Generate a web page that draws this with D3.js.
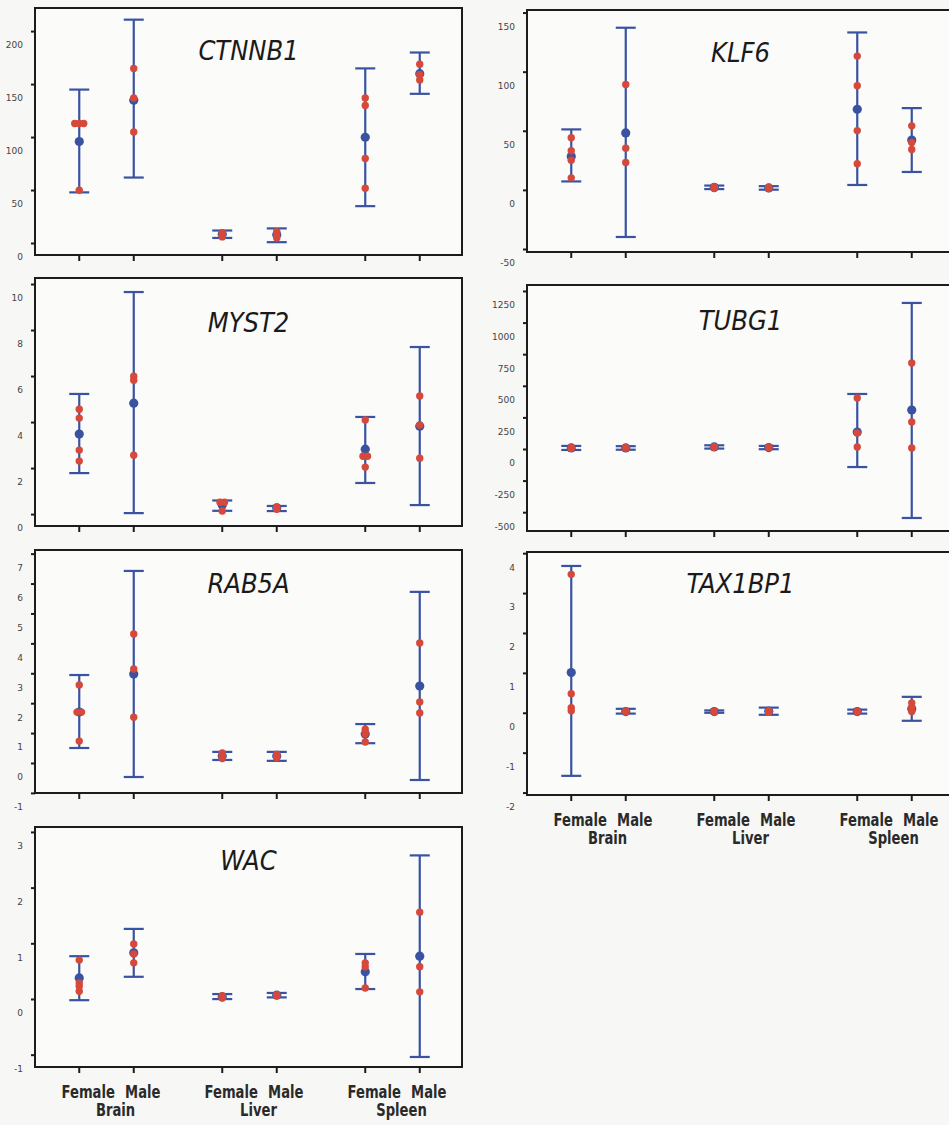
<!DOCTYPE html>
<html>
<head>
<meta charset="utf-8">
<script src="https://cdn.jsdelivr.net/npm/d3@7"></script>
<style>
  body { margin: 0; background: #f7f7f5; }
  svg { display: block; }
  .tick text { font-family: "DejaVu Sans", sans-serif; font-size: 9px; fill: #444; }
  .title { font-family: "Liberation Sans Narrow", "DejaVu Sans Condensed", sans-serif; font-stretch: condensed; font-style: italic; font-size: 27px; fill: #1a1a1a; }
  .xlab { font-family: "Liberation Sans Narrow", "DejaVu Sans Condensed", sans-serif; font-stretch: condensed; font-size: 17px; font-weight: 600; fill: #2a2a2a; }
</style>
</head>
<body>
<script>
// groups along the x axis
var tissues = ["Brain", "Liver", "Spleen"];
var sexes = ["Female", "Male"];

var genes = ["CTNNB1", "MYST2", "RAB5A", "WAC", "KLF6", "TUBG1", "TAX1BP1"];

// y tick labels per gene
var ticksCTNNB1 = [0, 50, 100, 150, 200];
var ticksMYST2 = [0, 2, 4, 6, 8, 10];
var ticksRAB5A = [-1, 0, 1, 2, 3, 4, 5, 6, 7];
var ticksWAC = [-1, 0, 1, 2, 3];
var ticksKLF6 = [-50, 0, 50, 100, 150];
var ticksTUBG1 = [-500, -250, 0, 250, 500, 750, 1000, 1250];
var ticksTAX1BP1 = [-2, -1, 0, 1, 2, 3, 4];

// order of groups: Female Brain, Male Brain, Female Liver, Male Liver, Female Spleen, Male Spleen
var meanCTNNB1 = [109, 148, 21.5, 21, 113, 173];
var upperCTNNB1 = [158, 224, 25, 27, 178, 193];
var lowerCTNNB1 = [61, 75, 18, 14, 48, 154];
var pointsCTNNB1 = [[126, 126, 126, 63], [178, 150, 118], [23, 20, 19], [24, 21, 18], [150, 143, 93, 65], [182, 172, 167]];

var meanMYST2 = [4.09, 5.43, 1.0, 0.88, 3.43, 4.43];
var upperMYST2 = [5.83, 10.26, 1.2, 0.96, 4.83, 7.87];
var lowerMYST2 = [2.39, 0.65, 0.75, 0.74, 1.96, 1.0];
var pointsMYST2 = [[5.17, 4.78, 3.39, 2.91], [6.6, 6.43, 3.17], [1.12, 1.12, 0.74], [0.92, 0.86, 0.82], [4.7, 3.12, 3.12, 2.65], [5.74, 4.48, 3.04]];

var meanRAB5A = [2.17, 3.44, 0.7, 0.7, 1.44, 3.04];
var upperRAB5A = [3.41, 6.89, 0.84, 0.84, 1.77, 6.19];
var lowerRAB5A = [0.97, 0.0, 0.57, 0.54, 1.13, -0.1];
var pointsRAB5A = [[3.08, 2.17, 2.17, 1.2], [4.78, 3.61, 2.0], [0.8, 0.7, 0.62], [0.76, 0.7, 0.64], [1.6, 1.44, 1.17], [4.48, 2.51, 2.14]];

var meanWAC = [0.63, 1.08, 0.29, 0.32, 0.74, 1.02];
var upperWAC = [1.02, 1.51, 0.34, 0.36, 1.06, 2.83];
var lowerWAC = [0.23, 0.65, 0.25, 0.28, 0.43, -0.79];
var pointsWAC = [[0.95, 0.54, 0.48, 0.39], [1.24, 1.06, 0.9], [0.31, 0.28, 0.27], [0.33, 0.31, 0.32], [0.9, 0.83, 0.45], [1.81, 0.83, 0.38]];

var meanKLF6 = [40, 60, 14, 13.5, 80, 54];
var upperKLF6 = [63, 149, 15.5, 15, 145, 81];
var lowerKLF6 = [19, -28, 12.5, 12, 16, 27];
var pointsKLF6 = [[56, 45, 37, 22], [101, 47, 35], [14.5, 13.5, 13], [14, 13, 13.2], [125, 100, 62, 34], [66, 52, 46]];

var meanTUBG1 = [119, 119, 127, 122, 245, 419];
var upperTUBG1 = [135, 133, 140, 135, 546, 1266];
var lowerTUBG1 = [103, 105, 114, 109, -32, -435];
var pointsTUBG1 = [[122, 116, 118], [121, 117, 119], [128, 125, 127], [124, 120, 122], [514, 237, 127], [791, 324, 119]];

var meanTAX1BP1 = [1.36, 0.38, 0.38, 0.39, 0.38, 0.45];
var upperTAX1BP1 = [4.03, 0.45, 0.41, 0.48, 0.43, 0.75];
var lowerTAX1BP1 = [-1.23, 0.33, 0.35, 0.3, 0.33, 0.15];
var pointsTAX1BP1 = [[3.82, 0.83, 0.48, 0.4], [0.39, 0.37, 0.38], [0.38, 0.37, 0.39], [0.4, 0.36, 0.38], [0.38, 0.39, 0.37], [0.6, 0.48, 0.38]];

var data = {
  CTNNB1: [meanCTNNB1, upperCTNNB1, lowerCTNNB1, pointsCTNNB1, ticksCTNNB1],
  MYST2: [meanMYST2, upperMYST2, lowerMYST2, pointsMYST2, ticksMYST2],
  RAB5A: [meanRAB5A, upperRAB5A, lowerRAB5A, pointsRAB5A, ticksRAB5A],
  WAC: [meanWAC, upperWAC, lowerWAC, pointsWAC, ticksWAC],
  KLF6: [meanKLF6, upperKLF6, lowerKLF6, pointsKLF6, ticksKLF6],
  TUBG1: [meanTUBG1, upperTUBG1, lowerTUBG1, pointsTUBG1, ticksTUBG1],
  TAX1BP1: [meanTAX1BP1, upperTAX1BP1, lowerTAX1BP1, pointsTAX1BP1, ticksTAX1BP1]
};

// panel layout: column, frame top/bottom, value range of the frame, title baseline
var layout = {
  CTNNB1: {col: 0, top: 8, bottom: 255, dom: [1.9, 235], ty: 60, xlab: false},
  MYST2: {col: 0, top: 278, bottom: 526, dom: [0.09, 10.87], ty: 332, xlab: false},
  RAB5A: {col: 0, top: 550, bottom: 793, dom: [-0.535, 7.59], ty: 593, xlab: false},
  WAC: {col: 0, top: 827, bottom: 1067, dom: [-0.97, 3.34], ty: 870, xlab: true},
  KLF6: {col: 1, top: 10, bottom: 252, dom: [-40.7, 164], ty: 62, xlab: false},
  TUBG1: {col: 1, top: 285, bottom: 531, dom: [-538, 1408], ty: 330, xlab: false},
  TAX1BP1: {col: 1, top: 552, bottom: 795, dom: [-1.71, 4.38], ty: 593, xlab: true}
};

var W = 949, H = 1125;
var colX = [35, 527];
var frameW = 427;
var blue = "#3a53a1", red = "#d6493a";

var svg = d3.select("body").append("svg")
    .attr("width", W)
    .attr("height", H);

// tissue bands, sex inside each band
var x0 = d3.scaleBand().domain(tissues).range([0, 429]);
var x1 = d3.scalePoint().domain(sexes).range([-27.25, 27.25]);
var groups = [];
tissues.forEach(t => sexes.forEach(s => groups.push({tissue: t, sex: s})));
var gx = d => x0(d.tissue) + x0.bandwidth() / 2 + x1(d.sex);

genes.forEach(function(gene) {
  var L = layout[gene];
  var D = data[gene];
  var mean = D[0], upper = D[1], lower = D[2], pts = D[3], ticks = D[4];

  var g = svg.append("g")
      .attr("transform", "translate(" + colX[L.col] + ",0)");

  var y = d3.scaleLinear().domain(L.dom).range([L.bottom, L.top]);

  g.append("rect")
      .attr("x", 0).attr("y", L.top)
      .attr("width", frameW).attr("height", L.bottom - L.top)
      .attr("fill", "#fbfbfa")
      .attr("stroke", "#1c1c1c")
      .attr("stroke-width", 2);

  // y axis (the tick marks sit a little above their labels, as in the print)
  var ya = g.append("g")
      .call(d3.axisLeft(y).tickValues(ticks).tickSize(4).tickPadding(8).tickFormat(d => String(d)));
  ya.select(".domain").remove();
  ya.selectAll(".tick line")
      .attr("stroke", "#1c1c1c")
      .attr("stroke-width", 2)
      .attr("transform", "translate(0,-14)");

  // x ticks
  var xa = g.append("g")
      .attr("transform", "translate(0," + L.bottom + ")");
  xa.selectAll("line")
      .data(groups)
      .join("line")
      .attr("x1", gx).attr("x2", gx)
      .attr("y1", 0).attr("y2", 6)
      .attr("stroke", "#1c1c1c")
      .attr("stroke-width", 2);

  if (L.xlab) {
    xa.selectAll("text.sex")
        .data(groups)
        .join("text")
        .attr("class", "xlab sex")
        .attr("transform", d => "translate(" + (gx(d) + 9) + ",31) scale(0.86,1)")
        .attr("text-anchor", "middle")
        .text(d => d.sex);
    xa.selectAll("text.tis")
        .data(tissues)
        .join("text")
        .attr("class", "xlab tis")
        .attr("transform", d => "translate(" + (x0(d) + x0.bandwidth() / 2 + 9) + ",49) scale(0.86,1)")
        .attr("text-anchor", "middle")
        .text(d => d);
  }

  // title
  g.append("text")
      .attr("class", "title")
      .attr("x", frameW / 2)
      .attr("y", L.ty)
      .attr("text-anchor", "middle")
      .text(gene);

  var rows = groups.map((d, i) => ({x: gx(d), mean: mean[i], hi: upper[i], lo: lower[i], pts: pts[i]}));

  var eb = g.append("g")
      .attr("stroke", blue)
      .attr("stroke-width", 2.2);
  eb.selectAll("line.v").data(rows).join("line")
      .attr("x1", d => d.x).attr("x2", d => d.x)
      .attr("y1", d => y(d.hi)).attr("y2", d => y(d.lo));
  eb.selectAll("line.t").data(rows).join("line")
      .attr("x1", d => d.x - 10).attr("x2", d => d.x + 10)
      .attr("y1", d => y(d.hi)).attr("y2", d => y(d.hi));
  eb.selectAll("line.b").data(rows).join("line")
      .attr("x1", d => d.x - 10).attr("x2", d => d.x + 10)
      .attr("y1", d => y(d.lo)).attr("y2", d => y(d.lo));

  g.selectAll("circle.mean").data(rows).join("circle")
      .attr("class", "mean")
      .attr("cx", d => d.x)
      .attr("cy", d => y(d.mean))
      .attr("r", 4.6)
      .attr("fill", blue);

  // individual points, equal values spread side by side
  var dots = [];
  rows.forEach(function(r) {
    var counts = d3.rollup(r.pts, v => v.length, v => v);
    var seen = new Map();
    r.pts.forEach(function(v) {
      var n = counts.get(v), k = seen.get(v) || 0;
      seen.set(v, k + 1);
      dots.push({x: r.x + (k - (n - 1) / 2) * 4.5, v: v});
    });
  });
  g.selectAll("circle.pt").data(dots).join("circle")
      .attr("class", "pt")
      .attr("cx", d => d.x)
      .attr("cy", d => y(d.v))
      .attr("r", 3.7)
      .attr("fill", red);
});
</script>
</body>
</html>
